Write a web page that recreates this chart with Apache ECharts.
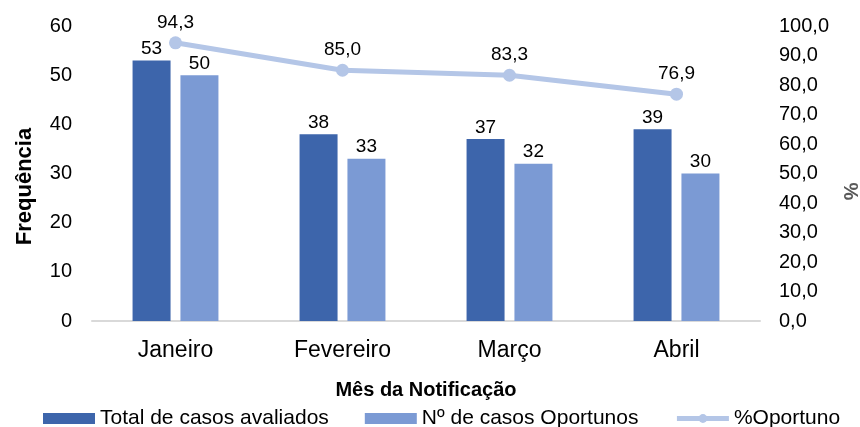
<!DOCTYPE html>
<html><head><meta charset="utf-8">
<script src="https://cdn.jsdelivr.net/npm/echarts@6/dist/echarts.min.js"></script>
<style>html,body{margin:0;padding:0;background:#fff}#c{width:860px;height:427px}</style>
</head><body><div id="c"></div>
<script>
const categories = ['Janeiro', 'Fevereiro', 'Março', 'Abril'];
const totalAvaliados = [53, 38, 37, 39];
const casosOportunos = [50, 33, 32, 30];
const pctOportuno = [94.3, 85.0, 83.3, 76.9];
const seriesNames = ['Total de casos avaliados', 'Nº de casos Oportunos', '%Oportuno'];

const fmt = v => v.toFixed(1).replace('.', ',');
const font = 'Liberation Sans, Arial, sans-serif';
const chart = echarts.init(document.getElementById('c'));
chart.setOption({
  animation: false,
  textStyle: { fontFamily: font, color: '#000' },
  grid: { left: 92, right: 100, top: 26, bottom: 106, containLabel: false, outerBoundsMode: 'none' },
  legend: {
    top: 403, left: 38, itemWidth: 52, itemHeight: 11, itemGap: 36,
    textStyle: { fontSize: 21, color: '#000', fontFamily: font },
    data: [
      { name: seriesNames[0], icon: 'rect' },
      { name: seriesNames[1], icon: 'rect' },
      { name: seriesNames[2], lineStyle: { width: 5 }, itemStyle: { color: '#B4C6E7' } }
    ]
  },
  xAxis: {
    type: 'category', data: categories,
    name: 'Mês da Notificação', nameLocation: 'middle', nameGap: 59,
    nameTextStyle: { fontSize: 20, fontWeight: 'bold', color: '#000' },
    axisLine: { lineStyle: { color: '#D9D9D9', width: 2 } },
    axisTick: { show: false },
    axisLabel: { fontSize: 23, color: '#000', margin: 18 }
  },
  yAxis: [{
    type: 'value', min: 0, max: 60, interval: 10,
    name: 'Frequência', nameLocation: 'middle', nameGap: 56, nameRotate: 90,
    nameTextStyle: { fontSize: 22, fontWeight: 'bold', color: '#000', padding: [0, 26, 0, 0] },
    axisLine: { show: false }, axisTick: { show: false }, splitLine: { show: false },
    axisLabel: { fontSize: 20, color: '#000', margin: 20 }
  }, {
    type: 'value', min: 0, max: 100, interval: 10, position: 'right',
    name: '%', nameLocation: 'middle', nameGap: 80, nameRotate: -90,
    nameTextStyle: { fontSize: 20, fontWeight: 'bold', color: '#595959', padding: [0, 0, 0, 36] },
    axisLine: { show: false }, axisTick: { show: false }, splitLine: { show: false },
    axisLabel: { fontSize: 20, color: '#000', margin: 19, formatter: v => fmt(v) }
  }],
  series: [{
    name: seriesNames[0], type: 'bar', data: totalAvaliados,
    barWidth: 38, barGap: '26%',
    itemStyle: { color: '#3D65AB' },
    label: { show: true, position: 'top', distance: 2, fontSize: 19, color: '#000' }
  }, {
    name: seriesNames[1], type: 'bar', data: casosOportunos,
    barWidth: 38,
    itemStyle: { color: '#7B9AD4' },
    label: { show: true, position: 'top', distance: 2, fontSize: 19, color: '#000' }
  }, {
    name: seriesNames[2], type: 'line', yAxisIndex: 1, data: pctOportuno,
    symbol: 'circle', symbolSize: 13,
    lineStyle: { color: '#B4C6E7', width: 5 },
    itemStyle: { color: '#B4C6E7' },
    label: { show: true, position: 'top', distance: 4, fontSize: 19, color: '#000', formatter: p => fmt(p.value) }
  }]
});
</script></body></html>
